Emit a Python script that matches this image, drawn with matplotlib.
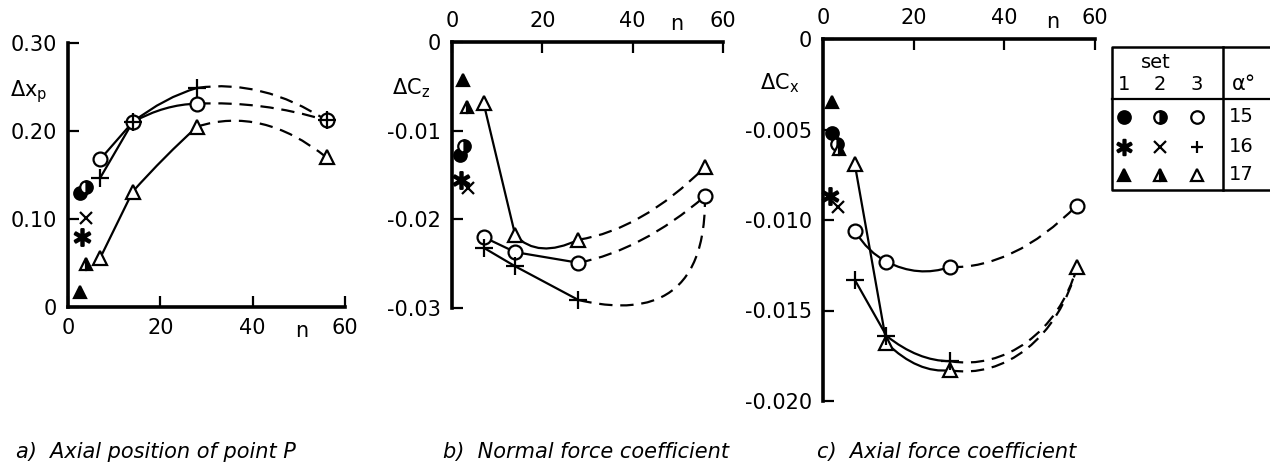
import matplotlib
matplotlib.use('Agg')
from matplotlib import pyplot as plt
from matplotlib.path import Path
from matplotlib.patches import PathPatch

W, H = 1270, 472

# n values of set 3
n3 = [7, 14, 28, 56]

# a) axial position of point P
a_circ = [0.168, 0.210, 0.231, 0.212]
a_plus = [0.147, 0.210, 0.249, 0.212]
a_tri = [0.056, 0.131, 0.205, 0.170]
a_circ_ctrl = [[], [(21, 0.2305)], [(42, 0.2345)]]
a_plus_ctrl = [[], [(21, 0.2385)], [(42, 0.2595)]]
a_tri_ctrl = [[], [(21, 0.172)], [(42, 0.2285)]]
# sets 1 and 2: filled circle, half circle, asterisk, x, filled tri, half tri
a_solo_n = [2.5, 4.0, 3.0, 4.0, 2.5, 4.0]
a_solo_v = [0.130, 0.136, 0.080, 0.101, 0.017, 0.049]

# b) normal force coefficient
b_circ = [-0.0220, -0.0237, -0.0249, -0.0174]
b_plus = [-0.0232, -0.0253, -0.0291, -0.0178]
b_tri = [-0.0069, -0.0218, -0.0223, -0.0141]
b_circ_ctrl = [[], [], [(42, -0.0235)]]
b_plus_ctrl = [[], [], [(40, -0.0305), (56, -0.0305)]]
b_tri_ctrl = [[], [(19, -0.0245)], [(42, -0.0212)]]
b_solo_n = [1.8, 2.7, 2.0, 3.5, 2.4, 3.3]
b_solo_v = [-0.0127, -0.0117, -0.0156, -0.0165, -0.0043, -0.0073]

# c) axial force coefficient
c_circ = [-0.0106, -0.0123, -0.0126, -0.0092]
c_plus = [-0.0133, -0.0164, -0.0178, -0.0126]
c_tri = [-0.0069, -0.0168, -0.0183, -0.0126]
c_circ_ctrl = [[(10, -0.0118)], [(21, -0.0132)], [(42, -0.0127)]]
c_plus_ctrl = [[], [(21, -0.0178)], [(40, -0.0183), (52, -0.0162)]]
c_tri_ctrl = [[], [(21, -0.0185)], [(40, -0.0188), (52, -0.0165)]]
c_solo_n = [2.0, 3.1, 1.5, 3.3, 2.0, 3.5]
c_solo_v = [-0.0052, -0.0058, -0.0087, -0.0093, -0.0035, -0.0061]

set_labels = ['1', '2', '3']
alpha_labels = ['15', '16', '17']

STAR = '$\u2217$'
solo_styles = [('o', 'full'), ('o', 'right'), (STAR, 'full'),
               ('x', 'full'), ('^', 'full'), ('^', 'right')]

plt.rcParams['font.family'] = ['DejaVu Sans']
plt.rcParams['mathtext.default'] = 'regular'

fig = plt.figure(figsize=(W / 100, H / 100), dpi=100)


def box(x0, x1, y0, y1):
    return [x0 / W, 1 - y1 / H, (x1 - x0) / W, (y1 - y0) / H]


def segment(ax, p0, p1, ctrl, dashed):
    verts = [p0] + list(ctrl) + [p1]
    if len(ctrl) == 0:
        codes = [Path.MOVETO, Path.LINETO]
    elif len(ctrl) == 1:
        codes = [Path.MOVETO, Path.CURVE3, Path.CURVE3]
    else:
        codes = [Path.MOVETO, Path.CURVE4, Path.CURVE4, Path.CURVE4]
    ls = (0, (6, 3.5)) if dashed else '-'
    ax.add_patch(PathPatch(Path(verts, codes), fill=False, lw=1.6, ls=ls,
                           ec='black', zorder=2, clip_on=False))


def series(ax, vals, ctrl, marker, last_marker=True):
    for i in range(3):
        segment(ax, (n3[i], vals[i]), (n3[i + 1], vals[i + 1]), ctrl[i], i == 2)
    k = 4 if last_marker else 3
    ax.plot(n3[:k], vals[:k], ls='none', marker=marker, ms=10 if marker != '+' else 13,
            mfc='white', mec='black', mew=1.6, zorder=3, clip_on=False)


def solos(ax, ns, vs):
    for x, y, (m, fs) in zip(ns, vs, solo_styles):
        ms = 12 if m == STAR else 9
        ax.plot([x], [y], ls='none', marker=m, ms=ms, mfc='black', mec='black',
                mfcalt='white', fillstyle=fs, mew=1.6, zorder=4, clip_on=False)


def style(ax, top):
    for s in ax.spines.values():
        s.set_visible(False)
    ax.spines['left'].set_visible(True)
    ax.spines['top' if top else 'bottom'].set_visible(True)
    for s in ('left', 'top', 'bottom'):
        ax.spines[s].set_linewidth(2.6)
    ax.patch.set_visible(False)
    ax.tick_params(direction='in', length=8, width=1.6, labelsize=15, pad=8)
    if top:
        ax.xaxis.tick_top()
        ax.tick_params(axis='x', top=True, bottom=False)
    ax.set_xlim(0, 60)
    ax.set_xticks([0, 20, 40, 60], ['0', '20', '40', '60'])


# panel a
axa = fig.add_axes(box(68, 345, 43, 307))
style(axa, False)
axa.set_ylim(0, 0.30)
axa.set_yticks([0, 0.10, 0.20, 0.30], ['0', '0.10', '0.20', '0.30'])
series(axa, a_tri, a_tri_ctrl, '^')
series(axa, a_circ, a_circ_ctrl, 'o')
series(axa, a_plus, a_plus_ctrl, '+')
solos(axa, a_solo_n, a_solo_v)
fig.text(302 / W, 1 - 331 / H, 'n', fontsize=15, ha='center', va='center')
fig.text(10 / W, 1 - 92 / H, r'$\Delta x_p$', fontsize=15, ha='left', va='center')

# panel b
axb = fig.add_axes(box(452, 723, 42, 308))
style(axb, True)
axb.set_ylim(-0.03, 0)
axb.set_yticks([0, -0.01, -0.02, -0.03], ['0', '-0.01', '-0.02', '-0.03'])
series(axb, b_tri, b_tri_ctrl, '^')
series(axb, b_circ, b_circ_ctrl, 'o')
series(axb, b_plus, b_plus_ctrl, '+', last_marker=False)
solos(axb, b_solo_n, b_solo_v)
fig.text(677 / W, 1 - 24 / H, 'n', fontsize=15, ha='center', va='center')
fig.text(392 / W, 1 - 88 / H, r'$\Delta C_z$', fontsize=15, ha='left', va='center')

# panel c
axc = fig.add_axes(box(823, 1095, 39, 401))
style(axc, True)
axc.set_ylim(-0.020, 0)
axc.set_yticks([0, -0.005, -0.010, -0.015, -0.020],
               ['0', '-0.005', '-0.010', '-0.015', '-0.020'])
series(axc, c_circ, c_circ_ctrl, 'o')
series(axc, c_tri, c_tri_ctrl, '^')
series(axc, c_plus, c_plus_ctrl, '+', last_marker=False)
solos(axc, c_solo_n, c_solo_v)
fig.text(1053 / W, 1 - 22 / H, 'n', fontsize=15, ha='center', va='center')
fig.text(760 / W, 1 - 83 / H, r'$\Delta C_x$', fontsize=15, ha='left', va='center')

# legend table
axt = fig.add_axes(box(1100, 1270, 40, 200))
axt.set_xlim(1100, 1270)
axt.set_ylim(200, 40)
axt.axis('off')
axt.plot([1280, 1112, 1112, 1280], [47, 47, 190, 190], color='black', lw=1.8, clip_on=False)
axt.plot([1112, 1280], [99, 99], color='black', lw=1.6, clip_on=False)
axt.plot([1223, 1223], [47, 190], color='black', lw=1.8)
axt.text(1156, 63, 'set', fontsize=14, ha='center', va='center')
col_x = [1124, 1160, 1197]
for x, t in zip(col_x, set_labels):
    axt.text(x, 84, t, fontsize=14, ha='center', va='center')
axt.text(1232, 84, 'α°', fontsize=15, ha='left', va='center')
rows_y = [117, 147, 175]
legend_marks = [[('o', 'full'), ('o', 'right'), ('o', 'none')],
                [(STAR, 'full'), ('x', 'full'), ('+', 'full')],
                [('^', 'full'), ('^', 'right'), ('^', 'none')]]
for y, lab, marks in zip(rows_y, alpha_labels, legend_marks):
    for x, (m, fs) in zip(col_x, marks):
        mfc = 'white' if fs == 'none' else 'black'
        axt.plot([x], [y], ls='none', marker=m, ms=11 if m == STAR else 9,
                 mfc=mfc, mec='black', mfcalt='white',
                 fillstyle='full' if fs == 'none' else fs, mew=1.6)
    axt.text(1229, y, lab, fontsize=14, ha='left', va='center')

# captions
cap = dict(fontsize=15, style='italic', va='center', ha='left')
fig.text(16 / W, 1 - 452 / H, 'a)  Axial position of point P', **cap)
fig.text(443 / W, 1 - 452 / H, 'b)  Normal force coefficient', **cap)
fig.text(817 / W, 1 - 452 / H, 'c)  Axial force coefficient', **cap)

fig.savefig('out.png', dpi=100)
